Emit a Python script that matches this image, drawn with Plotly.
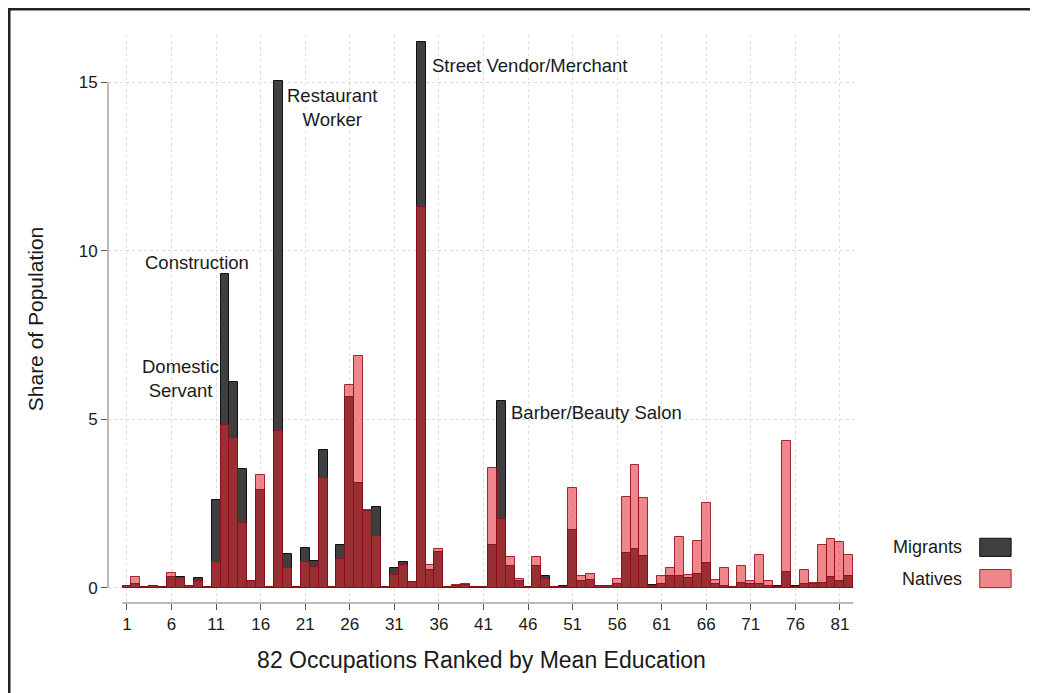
import plotly.graph_objects as go

occupations = list(range(1, 83))

migrants = [
    0.05, 0.12, 0.03, 0.05, 0.02, 0.33, 0.32, 0.05, 0.28, 0.02,
    2.61, 9.32, 6.12, 3.52, 0.19, 2.91, 0.02, 15.04, 1.01, 0.03,
    1.18, 0.81, 4.09, 0.02, 1.26, 5.65, 3.10, 2.28, 2.39, 0.03,
    0.58, 0.76, 0.17, 16.18, 0.53, 1.05, 0.02, 0.06, 0.08, 0.02,
    0.02, 1.26, 5.55, 0.65, 0.20, 0.03, 0.66, 0.36, 0.03, 0.04,
    1.72, 0.19, 0.24, 0.04, 0.04, 0.10, 1.03, 1.15, 0.95, 0.08,
    0.10, 0.34, 0.36, 0.30, 0.40, 0.73, 0.10, 0.05, 0.02, 0.14,
    0.10, 0.12, 0.05, 0.05, 0.48, 0.05, 0.12, 0.10, 0.15, 0.32,
    0.20, 0.34,
]

natives = [
    0.04, 0.33, 0.02, 0.04, 0.02, 0.45, 0.28, 0.04, 0.20, 0.02,
    0.78, 4.84, 4.44, 1.92, 0.19, 3.35, 0.02, 4.64, 0.58, 0.02,
    0.76, 0.63, 3.27, 0.02, 0.86, 6.02, 6.88, 2.30, 1.55, 0.02,
    0.39, 0.68, 0.17, 11.31, 0.68, 1.15, 0.02, 0.09, 0.12, 0.02,
    0.02, 3.55, 2.04, 0.90, 0.25, 0.02, 0.90, 0.26, 0.02, 0.02,
    2.96, 0.34, 0.41, 0.05, 0.05, 0.26, 2.69, 3.63, 2.66, 0.02,
    0.34, 0.60, 1.50, 0.38, 1.39, 2.53, 0.24, 0.58, 0.02, 0.65,
    0.19, 0.98, 0.21, 0.02, 4.37, 0.02, 0.53, 0.14, 1.26, 1.45,
    1.35, 0.96,
]

x_ticks = list(range(1, 82, 5))
y_ticks = [0, 5, 10, 15]

# (label, x, y, xanchor)
labels = [
    ("Construction", 14.9, 9.65, "right"),
    ("Domestic<br>Servant", 6.95, 6.2, "center"),
    ("Restaurant<br>Worker", 24.1, 14.24, "center"),
    ("Street Vendor/Merchant", 35.0, 15.49, "left"),
    ("Barber/Beauty Salon", 43.86, 5.19, "left"),
]

MIG_FILL = "#3f3f3f"
NAT_FILL = "rgba(225,35,45,0.55)"
NAT_LINE = "rgba(150,10,20,0.85)"
FONT = "Liberation Sans, Arial, sans-serif"
TXT = "#1a1a1a"

fig = go.Figure()
fig.add_trace(go.Bar(
    x=occupations, y=migrants, name="Migrants", width=1,
    marker=dict(color=MIG_FILL, line=dict(color="#111", width=1)),
))
fig.add_trace(go.Bar(
    x=occupations, y=natives, name="Natives", width=1,
    marker=dict(color=NAT_FILL, line=dict(color=NAT_LINE, width=1)),
))

for text, lx, ly, anchor in labels:
    fig.add_annotation(
        x=lx, y=ly, text=text, showarrow=False, xanchor=anchor, yanchor="middle",
        align="center", font=dict(size=18.5, color=TXT, family=FONT),
    )

# page body adds an 8px margin, so the figure is a bit smaller than the window
fig.update_layout(
    barmode="overlay",
    bargap=0,
    width=1030, height=685,
    margin=dict(l=100, r=183, t=27, b=90),
    plot_bgcolor="white",
    paper_bgcolor="white",
    showlegend=False,
    font=dict(family=FONT, color=TXT, size=17),
    xaxis=dict(
        range=[-1.13, 82.69],
        tickvals=x_ticks,
        ticks="outside", ticklen=6, tickcolor="#555",
        showgrid=True, griddash="dot", gridcolor="#dcdcdc", gridwidth=1,
        showline=False, zeroline=False,
        title=dict(text="82 Occupations Ranked by Mean Education",
                   font=dict(size=23, color=TXT), standoff=18),
        tickfont=dict(size=17, color=TXT),
    ),
    yaxis=dict(
        range=[-0.45, 16.4],
        tickvals=y_ticks,
        ticks="outside", ticklen=6, tickcolor="#555",
        showgrid=True, griddash="dot", gridcolor="#dcdcdc", gridwidth=1,
        showline=False, zeroline=False,
        title=dict(text="Share of Population", font=dict(size=21, color=TXT), standoff=29),
        tickfont=dict(size=17, color=TXT),
    ),
)

# axis lines drawn Stata-style (y from 0 to 15, x under the bars)
fig.add_shape(type="line", xref="paper", yref="y", x0=0, x1=0, y0=0, y1=15,
              line=dict(color="#777", width=1))
fig.add_shape(type="line", xref="x", yref="paper", x0=0.5, x1=82.5, y0=0, y1=0,
              line=dict(color="#777", width=1))

# legend: text on the left, swatch on the right
legend_items = [("Migrants", MIG_FILL, "#111", 0.098), ("Natives", NAT_FILL, NAT_LINE, 0.043)]
for name, fill, edge, py in legend_items:
    fig.add_annotation(xref="paper", yref="paper", x=1.146, y=py, text=name,
                       showarrow=False, xanchor="right", yanchor="middle",
                       font=dict(size=18, color=TXT, family=FONT))
    fig.add_shape(type="rect", xref="paper", yref="paper",
                  x0=1.167, x1=1.209, y0=py - 0.016, y1=py + 0.016,
                  fillcolor=fill, line=dict(color=edge, width=1))

# outer frame
fig.add_shape(type="rect", xref="paper", yref="paper",
              x0=-0.1325, x1=1.2396, y0=-0.2, y1=1.0458,
              line=dict(color="#222", width=3))

fig.write_html("out.html")
